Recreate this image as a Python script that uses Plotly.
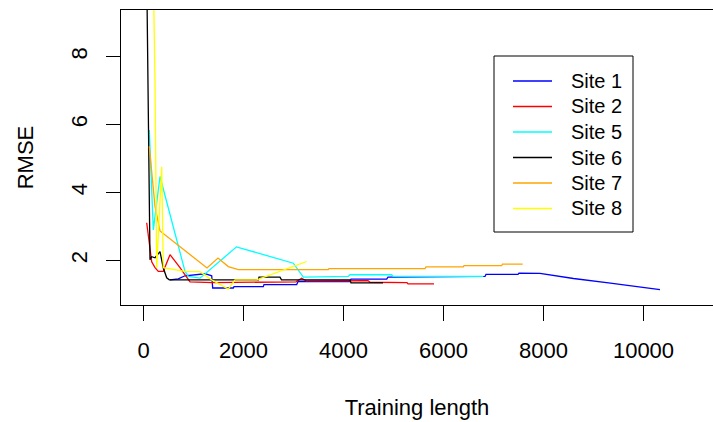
import plotly.graph_objects as go

# ---- data ----
site_names = ["Site 1", "Site 2", "Site 5", "Site 6", "Site 7", "Site 8"]
site_colors = ["#0000FF", "#FF0000", "#00FFFF", "#000000", "#FFA500", "#FFFF00"]

site1_x = [530, 696, 830, 1230, 1364, 1384, 1796, 1810, 2396, 2410, 3064, 3090, 4130, 4150,
           4864, 4890, 6830, 6850, 7490, 7510, 7930, 8600, 9300, 10000, 10330]
site1_y = [1.43, 1.46, 1.55, 1.61, 1.55, 1.19, 1.19, 1.23, 1.23, 1.29, 1.29, 1.38, 1.38, 1.45,
           1.45, 1.51, 1.53, 1.59, 1.59, 1.63, 1.62, 1.47, 1.34, 1.20, 1.14]

site2_x = [64, 90, 130, 164, 230, 296, 396, 530, 730, 890, 930, 1390, 3050, 3164, 3250,
           4490, 4530, 5270, 5290, 5810]
site2_y = [3.11, 2.84, 2.37, 1.96, 1.79, 1.68, 1.68, 2.17, 1.79, 1.43, 1.37, 1.35, 1.37, 1.48, 1.40,
           1.41, 1.36, 1.35, 1.31, 1.31]

site5_x = [116, 196, 330, 830, 896, 1130, 1860, 2996, 3196, 4096, 4130, 4964, 4990, 6796]
site5_y = [5.84, 2.90, 4.47, 1.68, 1.53, 1.48, 2.40, 1.92, 1.51, 1.53, 1.58, 1.58, 1.53, 1.53]

site6_x = [64, 90, 110, 130, 164, 230, 330, 396, 464, 516, 2296, 2310, 2730, 2760, 4130, 4150, 4790]
site6_y = [10.5, 7.17, 5.05, 2.02, 2.11, 2.08, 2.26, 1.78, 1.49, 1.43, 1.43, 1.51, 1.51, 1.43,
           1.43, 1.34, 1.34]

site7_x = [116, 230, 330, 1270, 1490, 1696, 1896, 3696, 3710, 5630, 5650, 6396, 6410, 7164, 7180, 7584]
site7_y = [5.36, 3.59, 2.87, 1.78, 2.07, 1.82, 1.73, 1.73, 1.76, 1.76, 1.81, 1.81, 1.85, 1.85, 1.89, 1.89]

site8_x = [196, 230, 264, 364, 396, 830, 1130, 1364, 1696, 1830, 2264, 3264]
site8_y = [10.5, 7.26, 1.79, 4.76, 1.79, 1.68, 1.67, 1.43, 1.16, 1.43, 1.43, 1.97]

x_ticks = [0, 2000, 4000, 6000, 8000, 10000]
y_ticks = [2, 4, 6, 8]

series_x = [site1_x, site2_x, site5_x, site6_x, site7_x, site8_x]
series_y = [site1_y, site2_y, site5_y, site6_y, site7_y, site8_y]

FONT = "Liberation Sans, Arial, sans-serif"

fig = go.Figure()
for name, col, xs, ys in zip(site_names, site_colors, series_x, series_y):
    fig.add_trace(go.Scatter(x=xs, y=ys, mode="lines", name=name, showlegend=False,
                             line=dict(color=col, width=1.3)))

# plot area: px 121..713 horizontally, 10..305 vertically
def px_x(p):
    return (p - 121) / 592.0

def px_y(p):
    return (305 - p) / 295.0

# legend drawn as a framed box (R-style legend)
shapes = [dict(type="rect", xref="paper", yref="paper",
               x0=px_x(494), x1=px_x(633), y0=px_y(232), y1=px_y(56),
               line=dict(color="black", width=1), layer="above")]
annotations = []
row0, row_step = 81.0, 25.5
for i, (name, col) in enumerate(zip(site_names, site_colors)):
    ry = row0 + i * row_step
    shapes.append(dict(type="line", xref="paper", yref="paper",
                       x0=px_x(513), x1=px_x(552), y0=px_y(ry), y1=px_y(ry),
                       line=dict(color=col, width=1.3)))
    annotations.append(dict(text=name, xref="paper", yref="paper",
                            x=px_x(569), y=px_y(ry), xanchor="left", yanchor="middle",
                            showarrow=False, font=dict(family=FONT, size=20, color="black")))

fig.update_layout(
    width=713, height=422,
    margin=dict(l=121, r=0, t=10, b=117, pad=0),
    paper_bgcolor="white", plot_bgcolor="white",
    font=dict(family=FONT, color="black", size=22),
    showlegend=False,
    shapes=shapes,
    annotations=annotations,
    xaxis=dict(range=[-450, 11390], tickvals=x_ticks, ticktext=[str(v) for v in x_ticks],
               showline=True, linecolor="black", linewidth=1, mirror=True,
               ticks="outside", ticklen=15, tickwidth=1, tickcolor="black",
               showgrid=False, zeroline=False, tickfont=dict(size=22),
               ticklabelstandoff=11,
               title=dict(text="Training length", font=dict(size=22), standoff=37)),
    yaxis=dict(range=[0.69, 9.37], tickvals=y_ticks, ticktext=[str(v) for v in y_ticks],
               showline=True, linecolor="black", linewidth=1, mirror=False,
               ticks="outside", ticklen=14, tickwidth=1, tickcolor="black",
               tickangle=-90, showgrid=False, zeroline=False, tickfont=dict(size=22),
               ticklabelstandoff=10,
               title=dict(text="RMSE", font=dict(size=22), standoff=27)),
)

fig.write_html("out.html")
